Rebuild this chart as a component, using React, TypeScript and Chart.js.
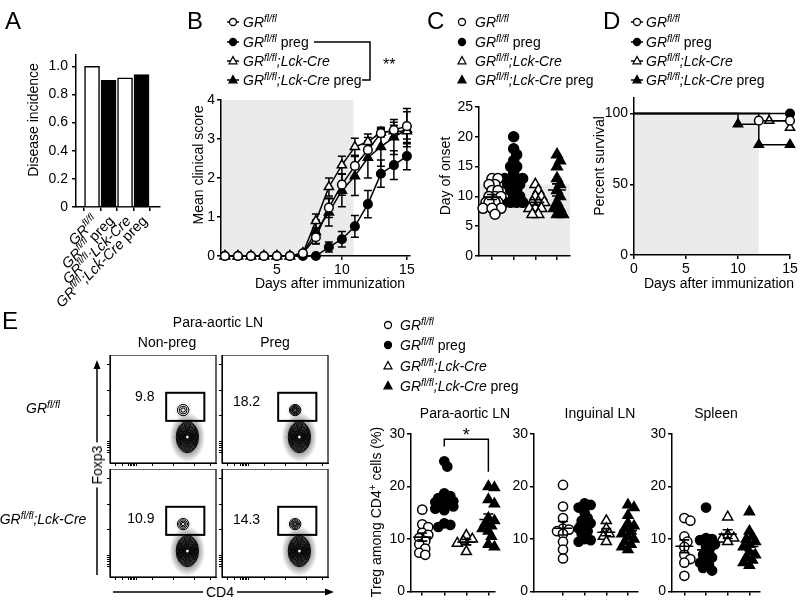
import React, { useEffect, useRef } from 'react';
import { Chart, registerables } from 'chart.js';

Chart.register(...registerables);

const FONT = '"Liberation Sans", Arial, Helvetica, sans-serif';
Chart.defaults.font.family = FONT;
Chart.defaults.color = '#000';

/* ===================== DATA ===================== */
// groups: GRfl/fl, GRfl/fl preg, GRfl/fl;Lck-Cre, GRfl/fl;Lck-Cre preg
const groupShape = ['circle', 'circle', 'triangle', 'triangle'];
const groupFilled = [false, true, false, true];

// Panel A – disease incidence
const aCatPos = [0, 1, 2, 3];
const aIncidence = [1.0, 0.9, 0.917, 0.941];
const aYTicks = [0, 0.2, 0.4, 0.6, 0.8, 1.0];
const aYTickLabels = ['0', '0.2', '0.4', '0.6', '0.8', '1.0'];
type Seg = { t: string; i?: boolean; s?: boolean };
const aCatLabels: Seg[][] = [
  [{ t: 'GR', i: true }, { t: 'fl/fl', i: true, s: true }],
  [{ t: 'GR', i: true }, { t: 'fl/fl', i: true, s: true }, { t: ' preg' }],
  [{ t: 'GR', i: true }, { t: 'fl/fl', i: true, s: true }, { t: ';Lck-Cre', i: true }],
  [{ t: 'GR', i: true }, { t: 'fl/fl', i: true, s: true }, { t: ';Lck-Cre', i: true }, { t: ' preg' }],
];

// Panel B – mean clinical score
const bDays = [1, 2, 3, 4, 5, 6, 7, 8, 9, 10, 11, 12, 13, 14, 15];
const bGr = [0, 0, 0, 0, 0, 0, 0.07, 0.48, 1.24, 1.83, 2.31, 2.72, 3.15, 3.23, 3.33];
const bGrErr = [0, 0, 0, 0, 0, 0, 0.05, 0.17, 0.25, 0.27, 0.27, 0.22, 0.1, 0.2, 0.45];
const bGrPreg = [0, 0, 0, 0, 0, 0, 0, 0, 0.23, 0.43, 0.76, 1.33, 2.11, 2.33, 2.56];
const bGrPregErr = [0, 0, 0, 0, 0, 0, 0, 0, 0.13, 0.2, 0.28, 0.35, 0.35, 0.37, 0.35];
const bLck = [0, 0, 0, 0, 0, 0, 0.07, 0.9, 1.77, 2.33, 2.8, 2.93, 3.17, 3.2, 3.2];
const bLckErr = [0, 0, 0, 0, 0, 0, 0.05, 0.18, 0.23, 0.23, 0.22, 0.2, 0.1, 0.15, 0.2];
const bLckPreg = [0, 0, 0, 0, 0, 0, 0.07, 0.62, 1.12, 1.68, 2.05, 2.52, 2.8, 3.05, 3.25];
const bLckPregErr = [0, 0, 0, 0, 0, 0, 0.05, 0.3, 0.35, 0.42, 0.5, 0.52, 0.5, 0.45, 0.45];
const bXTicks = [5, 10, 15];
const bXTickLabels = ['5', '10', '15'];
const bYTicks = [0, 1, 2, 3, 4];
const bYTickLabels = ['0', '1', '2', '3', '4'];
const bShadeEnd = 10.9;

// Panel C – day of onset
const cGr = [13, 13, 12, 12, 11, 11, 10, 10, 10, 9, 9, 9, 9, 9, 8, 8, 8, 7];
const cGrPreg = [20, 18, 17, 16, 15, 15, 14, 13, 13, 13, 13, 12, 12, 12, 11, 11, 10, 10, 9, 9, 9, 9];
const cLck = [12, 11, 10, 10, 9, 9, 9, 8, 8, 8, 7, 7];
const cLckPreg = [17, 16, 15, 13, 12, 11, 10, 9, 8, 8, 7, 7];
const cYTicks = [0, 5, 10, 15, 20, 25];
const cYTickLabels = ['0', '5', '10', '15', '20', '25'];
const cShadeTop = 12;

// Panel D – percent survival (Kaplan-Meier events)
const dGrDays = [0, 12, 15];
const dGrSurv = [100, 95, 95];
const dGrPregDays = [0, 15];
const dGrPregSurv = [100, 100];
const dLckDays = [0, 13, 15];
const dLckSurv = [100, 95, 90];
const dLckPregDays = [0, 10, 12, 15];
const dLckPregSurv = [100, 92.5, 78, 78];
const dXTicks = [0, 5, 10, 15];
const dXTickLabels = ['0', '5', '10', '15'];
const dYTicks = [0, 50, 100];
const dYTickLabels = ['0', '50', '100'];
const dShadeEnd = 12;

// Panel E – Treg among CD4+ cells (%)
const paGr = [15.6, 12.8, 12.3, 11.2, 10.8, 10.2, 9.6, 9.0, 8.2, 7.4, 7.0];
const paGrPreg = [24.8, 23.8, 18.7, 18.2, 17.8, 17.5, 17.2, 17.0, 16.8, 16.5, 16.2, 15.8, 15.5, 13.0, 12.7, 12.3];
const paLck = [10.7, 10.0, 9.6, 9.2, 7.6];
const paLckPreg = [20.0, 19.8, 17.5, 16.7, 14.0, 13.5, 13.0, 12.5, 12.0, 11.5, 10.5, 9.0, 8.5];
const inGr = [20.3, 16.2, 14.0, 12.0, 11.8, 11.5, 11.0, 9.5, 8.0, 6.3];
const inGrPreg = [16.8, 16.5, 16.0, 15.0, 14.0, 13.5, 13.0, 12.5, 12.0, 11.5, 11.0, 10.0, 9.8, 9.5];
const inLck = [13.5, 12.0, 11.0, 10.5, 9.5];
const inLckPreg = [16.5, 16.0, 14.5, 13.0, 12.5, 12.0, 11.5, 11.0, 10.5, 10.0, 9.5, 9.0, 8.5, 8.0];
const spGr = [14.0, 13.5, 10.5, 9.5, 8.5, 7.0, 6.2, 5.5, 3.0];
const spGrPreg = [16.0, 10.2, 10.0, 9.8, 9.5, 9.0, 8.5, 7.5, 7.0, 6.5, 6.0, 5.5, 5.0, 4.5, 4.0];
const spLck = [14.2, 10.8, 10.2, 10.0, 9.5];
const spLckPreg = [15.2, 11.5, 10.5, 10.0, 9.5, 9.0, 8.5, 7.5, 7.0, 6.5, 6.0, 5.5, 5.0];
const eYTicks = [0, 10, 20, 30];
const eYTickLabels = ['0', '10', '20', '30'];
const paSig = { from: 1, to: 3, y: 29, dropFrom: 27.6, dropTo: 22.8, label: '*' };

// Flow plots (Foxp3 vs CD4), gate frequencies and population contours
const flowFreq = ['9.8', '18.2', '10.9', '14.3'];
const flowGate = { x0: 53, x1: 89, y0: 39, y1: 65 };
const flowMain = { cx: 73, cy: 24, rx: 10.5, ry: 14.5 };
const flowTreg = { cx: 69, cy: 49, rx: 5.4, ry: 5.2 };
const flowMainLevels = [
  [1, 0.93, 0.86, 0.79, 0.72, 0.65, 0.58, 0.51, 0.44, 0.37, 0.3, 0.23, 0.16],
  [1, 0.93, 0.86, 0.79, 0.72, 0.65, 0.58, 0.51, 0.44, 0.37, 0.3, 0.23, 0.16],
  [1, 0.93, 0.86, 0.79, 0.72, 0.65, 0.58, 0.51, 0.44, 0.37, 0.3, 0.23, 0.16],
  [1, 0.93, 0.86, 0.79, 0.72, 0.65, 0.58, 0.51, 0.44, 0.37, 0.3, 0.23, 0.16],
];
const flowTregLevels = [
  [1, 0.68, 0.38],
  [1, 0.84, 0.68, 0.53, 0.38, 0.24],
  [1, 0.76, 0.52, 0.3],
  [1, 0.8, 0.6, 0.42, 0.25],
];
const flowTicksX = [5, 12, 17, 19, 20.5, 22, 23.5, 25, 40, 60, 80, 95];
const flowTicksY = [10, 12, 14, 16, 18, 20, 44, 67, 91];

/* ===================== LAYOUT ===================== */
const flowBoxes = [
  { x: 110, y: 355 },
  { x: 222, y: 355 },
  { x: 110, y: 469 },
  { x: 222, y: 469 },
];
const flowLabelPos = [
  { x: 42, y: 61 },
  { x: 36, y: 56 },
  { x: 42, y: 54 },
  { x: 36, y: 53 },
];

/* ===================== HELPERS ===================== */
function segFont(s: Seg, size: number) {
  return `${s.i ? 'italic ' : ''}${s.s ? Math.round(size * 0.7) : size}px ${FONT}`;
}
function drawRich(ctx: any, segs: Seg[], x: number, y: number, align: string, size: number) {
  let total = 0;
  const ws = segs.map((s) => {
    ctx.font = segFont(s, size);
    const w = ctx.measureText(s.t).width;
    total += w;
    return w;
  });
  let cx = align === 'right' ? x - total : align === 'center' ? x - total / 2 : x;
  ctx.fillStyle = '#000';
  ctx.textAlign = 'left';
  ctx.textBaseline = 'alphabetic';
  segs.forEach((s, k) => {
    ctx.font = segFont(s, size);
    ctx.fillText(s.t, cx, y + size * 0.36 - (s.s ? size * 0.38 : 0));
    cx += ws[k];
  });
}

function axis(o: any) {
  const lw = o.lw ?? 1.5;
  return {
    type: 'linear',
    min: o.min,
    max: o.max,
    afterBuildTicks: (s: any) => {
      s.ticks = o.ticks.map((v: number) => ({ value: v }));
    },
    afterFit: (s: any) => {
      if (o.width !== undefined) s.width = o.width;
      if (o.height !== undefined) s.height = o.height;
    },
    grid: { display: true, drawOnChartArea: false, drawTicks: true, tickLength: o.tickLength ?? 4, color: '#000', lineWidth: lw },
    border: { display: true, color: '#000', width: lw },
    ticks: {
      display: !!o.labels,
      color: '#000',
      font: { family: FONT, size: 14 },
      padding: o.pad ?? 2,
      autoSkip: false,
      maxRotation: 0,
      minRotation: 0,
      callback: (_v: any, i: number) => (o.labels ? o.labels[i] : ''),
    },
    title: { display: false },
  };
}

function baseOptions(padding: any) {
  return {
    responsive: false,
    animation: false,
    devicePixelRatio: 1,
    events: [],
    layout: { padding },
    plugins: { legend: { display: false }, tooltip: { enabled: false } },
  };
}

function makeShade(x0: number, x1: number, y0: number, y1: number) {
  return {
    id: 'shade',
    beforeDraw(chart: any) {
      const { ctx, scales } = chart;
      const l = scales.x.getPixelForValue(x0);
      const r = scales.x.getPixelForValue(x1);
      const t = scales.y.getPixelForValue(y1);
      const b = scales.y.getPixelForValue(y0);
      ctx.save();
      ctx.fillStyle = '#ebebeb';
      ctx.fillRect(l, t, r - l, b - t);
      ctx.restore();
    },
  };
}

const errorBarPlugin = {
  id: 'errorBars',
  beforeDatasetsDraw(chart: any) {
    const { ctx } = chart;
    const ys = chart.scales.y;
    ctx.save();
    ctx.strokeStyle = '#000';
    ctx.lineWidth = 1.5;
    chart.data.datasets.forEach((ds: any, i: number) => {
      if (!ds.errorBars) return;
      const meta = chart.getDatasetMeta(i);
      meta.data.forEach((el: any, j: number) => {
        const e = ds.errorBars[j];
        if (!e) return;
        const v = ds.data[j].y;
        const t = ys.getPixelForValue(v + e);
        const b = ys.getPixelForValue(v - e);
        const cx = el.x;
        ctx.beginPath();
        ctx.moveTo(cx, t);
        ctx.lineTo(cx, b);
        ctx.moveTo(cx - 4, t);
        ctx.lineTo(cx + 4, t);
        ctx.moveTo(cx - 4, b);
        ctx.lineTo(cx + 4, b);
        ctx.stroke();
      });
    });
    ctx.restore();
  },
};

const meanSemPlugin = {
  id: 'meanSem',
  afterDatasetsDraw(chart: any) {
    const { ctx } = chart;
    const xs = chart.scales.x;
    const ys = chart.scales.y;
    ctx.save();
    ctx.strokeStyle = '#000';
    ctx.lineWidth = 1.6;
    chart.data.datasets.forEach((ds: any) => {
      const vals: number[] = ds.rawValues;
      if (!vals) return;
      const n = vals.length;
      const m = vals.reduce((a, b) => a + b, 0) / n;
      const sd = Math.sqrt(vals.reduce((a, b) => a + (b - m) * (b - m), 0) / (n - 1));
      const sem = sd / Math.sqrt(n);
      const cx = xs.getPixelForValue(ds.category);
      const pm = ys.getPixelForValue(m);
      const pt = ys.getPixelForValue(m + sem);
      const pb = ys.getPixelForValue(m - sem);
      ctx.beginPath();
      ctx.moveTo(cx - 9, pm);
      ctx.lineTo(cx + 9, pm);
      ctx.moveTo(cx, pt);
      ctx.lineTo(cx, pb);
      ctx.moveTo(cx - 5, pt);
      ctx.lineTo(cx + 5, pt);
      ctx.moveTo(cx - 5, pb);
      ctx.lineTo(cx + 5, pb);
      ctx.stroke();
    });
    ctx.restore();
  },
};

// beeswarm: spread points of a group sideways (in pixels) so markers do not pile up
function swarm(chart: any, minDist: number, maxHalf: number) {
  const xs = chart.scales.x;
  const ys = chart.scales.y;
  chart.data.datasets.forEach((ds: any) => {
    if (!ds.rawValues) return;
    const cx = xs.getPixelForValue(ds.category);
    const pts = ds.rawValues.map((v: number) => ({ v, py: ys.getPixelForValue(v), px: cx }));
    const order = [...pts].sort((a: any, b: any) => a.py - b.py);
    const placed: any[] = [];
    const step = minDist / 2;
    order.forEach((p: any) => {
      let best = cx;
      let bestScore = Infinity;
      for (let k = 0; k < 40; k++) {
        const off = (k % 2 === 1 ? 1 : -1) * Math.ceil(k / 2) * step;
        if (Math.abs(off) > maxHalf) break;
        const x = cx + off;
        let minD = Infinity;
        placed.forEach((q) => {
          const d = Math.hypot(q.px - x, q.py - p.py);
          if (d < minD) minD = d;
        });
        if (minD >= minDist) {
          best = x;
          bestScore = -1;
          break;
        }
        const score = -minD;
        if (score < bestScore) {
          bestScore = score;
          best = x;
        }
      }
      p.px = best;
      placed.push(p);
    });
    ds.data = pts.map((p: any) => ({ x: xs.getValueForPixel(p.px), y: p.v }));
  });
  chart.update('none');
}

function markerProps(g: number, rc: number, rt: number) {
  return {
    pointStyle: groupShape[g],
    pointRadius: groupShape[g] === 'circle' ? rc : rt,
    pointBackgroundColor: groupFilled[g] ? '#000' : '#fff',
    pointBorderColor: '#000',
    pointBorderWidth: 1.5,
  };
}

/* ===================== CHART CONFIGS ===================== */
const aLabelPlugin = {
  id: 'aLabels',
  afterDraw(chart: any) {
    const { ctx, chartArea } = chart;
    const xs = chart.scales.x;
    aCatPos.forEach((v, i) => {
      const px = xs.getPixelForValue(v);
      ctx.save();
      ctx.translate(px + 3, chartArea.bottom + 11);
      ctx.rotate(-Math.PI / 4);
      drawRich(ctx, aCatLabels[i], 0, 0, 'right', 14.5);
      ctx.restore();
    });
  },
};

const makeA = () => ({
  type: 'bar',
  data: {
    datasets: [
      {
        data: aCatPos.map((x, i) => ({ x, y: aIncidence[i] })),
        backgroundColor: groupFilled.map((f) => (f ? '#000' : '#fff')),
        borderColor: '#000',
        borderWidth: 1.5,
        borderSkipped: 'bottom',
        barThickness: 15,
      },
    ],
  },
  options: {
    ...baseOptions({ left: 0, top: 15, right: 5.6, bottom: 0 }),
    scales: {
      x: axis({ min: -0.34, max: 3.45, ticks: aCatPos, height: 103 }),
      y: axis({ min: 0, max: 1.08, ticks: aYTicks, labels: aYTickLabels, width: 51, pad: 4 }),
    },
  },
  plugins: [aLabelPlugin],
});

const bSeries = [bGr, bGrPreg, bLck, bLckPreg];
const bErrors = [bGrErr, bGrPregErr, bLckErr, bLckPregErr];
const makeB = () => ({
  type: 'line',
  data: {
    datasets: bSeries.map((s, g) => ({
      data: bDays.map((d, i) => ({ x: d, y: s[i] })),
      errorBars: bErrors[g],
      borderColor: '#000',
      borderWidth: 1.5,
      tension: 0,
      fill: false,
      clip: false,
      ...markerProps(g, 4.3, 5.3),
    })),
  },
  options: {
    ...baseOptions({ left: 0, top: 15, right: 10, bottom: 0 }),
    scales: {
      x: axis({ min: 0.7, max: 15.24, ticks: bXTicks, labels: bXTickLabels, height: 39 }),
      y: axis({ min: 0, max: 4, ticks: bYTicks, labels: bYTickLabels, width: 31 }),
    },
  },
  plugins: [makeShade(0.7, bShadeEnd, 0, 4), errorBarPlugin],
});

const cSeries = [cGr, cGrPreg, cLck, cLckPreg];
const makeC = () => ({
  type: 'scatter',
  data: {
    datasets: cSeries.map((s, g) => ({
      rawValues: s,
      category: g,
      data: s.map((v) => ({ x: g, y: v })),
      clip: false,
      ...markerProps(g, 5, 6.2),
    })),
  },
  options: {
    ...baseOptions({ left: 0, top: 12, right: 11, bottom: 0 }),
    scales: {
      x: axis({ min: -0.6, max: 3.6, ticks: [0, 1, 2, 3], height: 14 }),
      y: axis({ min: 0, max: 25, ticks: cYTicks, labels: cYTickLabels, width: 42 }),
    },
  },
  plugins: [makeShade(-0.6, 3.6, 0, cShadeTop), meanSemPlugin],
});

const dDays = [dGrDays, dGrPregDays, dLckDays, dLckPregDays];
const dSurv = [dGrSurv, dGrPregSurv, dLckSurv, dLckPregSurv];
const makeD = () => ({
  type: 'line',
  data: {
    datasets: dDays.map((days, g) => {
      const mp = markerProps(g, 4.3, 5.3);
      return {
        data: days.map((d, i) => ({ x: d, y: dSurv[g][i] })),
        stepped: true,
        borderColor: '#000',
        borderWidth: 1.5,
        fill: false,
        clip: false,
        ...mp,
        pointRadius: (c: any) => (c.dataIndex === 0 ? 0 : mp.pointRadius),
      };
    }),
  },
  options: {
    ...baseOptions({ left: 0, top: 13, right: 12, bottom: 0 }),
    scales: {
      x: axis({ min: 0, max: 15, ticks: dXTicks, labels: dXTickLabels, height: 40 }),
      y: axis({ min: 0, max: 111, ticks: dYTicks, labels: dYTickLabels, width: 43 }),
    },
  },
  plugins: [makeShade(0, dShadeEnd, 0, 100)],
});

const sigPlugin = {
  id: 'sig',
  afterDraw(chart: any) {
    const { ctx } = chart;
    const xs = chart.scales.x;
    const ys = chart.scales.y;
    const x1 = xs.getPixelForValue(paSig.from);
    const x2 = xs.getPixelForValue(paSig.to);
    const yt = ys.getPixelForValue(paSig.y);
    ctx.save();
    ctx.strokeStyle = '#000';
    ctx.lineWidth = 1.5;
    ctx.beginPath();
    ctx.moveTo(x1, ys.getPixelForValue(paSig.dropFrom));
    ctx.lineTo(x1, yt);
    ctx.lineTo(x2, yt);
    ctx.lineTo(x2, ys.getPixelForValue(paSig.dropTo));
    ctx.stroke();
    ctx.fillStyle = '#000';
    ctx.font = `18px ${FONT}`;
    ctx.textAlign = 'center';
    ctx.textBaseline = 'alphabetic';
    ctx.fillText(paSig.label, (x1 + x2) / 2, yt + 2);
    ctx.restore();
  },
};

function makeE(series: number[][], xmin: number, xmax: number, yw: number, padRight: number, extra: any[]) {
  return () => ({
    type: 'scatter',
    data: {
      datasets: series.map((s, g) => ({
        rawValues: s,
        category: g,
        data: s.map((v) => ({ x: g, y: v })),
        clip: false,
        ...markerProps(g, 4.6, 5.8),
      })),
    },
    options: {
      ...baseOptions({ left: 0, top: 14, right: padRight, bottom: 0 }),
      scales: {
        x: axis({ min: xmin, max: xmax, ticks: [0, 1, 2, 3], height: 10 }),
        y: axis({ min: 0, max: 30, ticks: eYTicks, labels: eYTickLabels, width: yw }),
      },
    },
    plugins: [meanSemPlugin, ...extra],
  });
}

function drawBlob(ctx: any, xs: any, ys: any, b: any, levels: number[], halo: number, core: number) {
  const cx = xs.getPixelForValue(b.cx);
  const cy = ys.getPixelForValue(b.cy);
  const rx = xs.getPixelForValue(b.cx + b.rx) - cx;
  const ry = cy - ys.getPixelForValue(b.cy + b.ry);
  ctx.save();
  ctx.translate(cx, cy);
  ctx.scale(1, ry / rx);
  const R = rx * 1.6;
  const g = ctx.createRadialGradient(0, 0, 0, 0, 0, R);
  g.addColorStop(0, `rgba(0,0,0,${core})`);
  g.addColorStop(0.6, `rgba(0,0,0,${halo})`);
  g.addColorStop(1, 'rgba(0,0,0,0)');
  ctx.fillStyle = g;
  ctx.beginPath();
  ctx.arc(0, 0, R, 0, Math.PI * 2);
  ctx.fill();
  ctx.restore();
  ctx.strokeStyle = '#000';
  ctx.lineWidth = 1;
  levels.forEach((f) => {
    ctx.beginPath();
    ctx.ellipse(cx, cy, rx * f, ry * f, 0, 0, Math.PI * 2);
    ctx.stroke();
  });
}

function makeFlow(p: number) {
  const plugin = {
    id: 'flow',
    afterDraw(chart: any) {
      const { ctx, chartArea: a } = chart;
      const xs = chart.scales.x;
      const ys = chart.scales.y;
      ctx.save();
      ctx.beginPath();
      ctx.rect(a.left, a.top, a.width, a.height);
      ctx.clip();
      drawBlob(ctx, xs, ys, flowMain, flowMainLevels[p], 0.4, 0.9);
      drawBlob(ctx, xs, ys, flowTreg, flowTregLevels[p], 0.08, p % 2 === 1 ? 0.45 : 0.12);
      const mx = xs.getPixelForValue(flowMain.cx);
      const my = ys.getPixelForValue(flowMain.cy);
      ctx.fillStyle = '#fff';
      ctx.beginPath();
      ctx.arc(mx, my, 1.3, 0, Math.PI * 2);
      ctx.fill();
      ctx.restore();
      ctx.save();
      ctx.strokeStyle = '#000';
      ctx.lineWidth = 2;
      const gx0 = xs.getPixelForValue(flowGate.x0);
      const gx1 = xs.getPixelForValue(flowGate.x1);
      const gy0 = ys.getPixelForValue(flowGate.y1);
      const gy1 = ys.getPixelForValue(flowGate.y0);
      ctx.strokeRect(gx0, gy0, gx1 - gx0, gy1 - gy0);
      ctx.lineWidth = 1.2;
      ctx.strokeRect(a.left, a.top, a.width, a.height);
      ctx.fillStyle = '#000';
      ctx.font = `14px ${FONT}`;
      ctx.textAlign = 'right';
      ctx.textBaseline = 'middle';
      ctx.fillText(flowFreq[p], xs.getPixelForValue(flowLabelPos[p].x), ys.getPixelForValue(flowLabelPos[p].y));
      ctx.restore();
    },
  };
  return () => ({
    type: 'scatter',
    data: { datasets: [] },
    options: {
      ...baseOptions({ left: 0, top: 0, right: 1, bottom: 0 }),
      scales: {
        x: axis({ min: 0, max: 100, ticks: flowTicksX, height: 5, lw: 1, tickLength: 3 }),
        y: axis({ min: 0, max: 100, ticks: flowTicksY, width: 5, lw: 1, tickLength: 3 }),
      },
    },
    plugins: [plugin],
  });
}

/* ===================== COMPONENTS ===================== */
type Box = { x: number; y: number; w: number; h: number };
function ChartBox({ box, make, after }: { box: Box; make: () => any; after?: (c: any) => void }) {
  const ref = useRef<HTMLCanvasElement | null>(null);
  useEffect(() => {
    if (!ref.current) return;
    const chart: any = new Chart(ref.current, make());
    if (after) after(chart);
    return () => chart.destroy();
  }, []);
  return (
    <canvas
      ref={ref}
      width={box.w}
      height={box.h}
      style={{ position: 'absolute', left: box.x, top: box.y, width: box.w, height: box.h }}
    />
  );
}

const supStyle: any = { fontSize: 10, position: 'relative', top: -5, verticalAlign: 'baseline', lineHeight: 0 };
const groupLabel = [
  <i>GR<sup style={supStyle}>fl/fl</sup></i>,
  <>
    <i>GR<sup style={supStyle}>fl/fl</sup></i> preg
  </>,
  <i>GR<sup style={supStyle}>fl/fl</sup>;Lck-Cre</i>,
  <>
    <i>GR<sup style={supStyle}>fl/fl</sup>;Lck-Cre</i> preg
  </>,
];

function T({ x, y, children, align = 'center', size = 14, style = {} }: any) {
  const tx = align === 'center' ? '-50%' : align === 'right' ? '-100%' : '0';
  const lh = Math.round(size * 1.14);
  return (
    <div
      style={{
        position: 'absolute',
        left: x,
        top: y - lh / 2,
        fontSize: size,
        lineHeight: `${lh}px`,
        whiteSpace: 'nowrap',
        transform: `translateX(${tx})`,
        ...style,
      }}
    >
      {children}
    </div>
  );
}

function VT({ x, y, children, style = {} }: any) {
  return (
    <div
      style={{
        position: 'absolute',
        left: x,
        top: y,
        fontSize: 14,
        lineHeight: '16px',
        whiteSpace: 'nowrap',
        transform: 'translate(-50%, -50%) rotate(-90deg)',
        ...style,
      }}
    >
      {children}
    </div>
  );
}

function Legend({ mx, tx, rows, line }: any) {
  return (
    <>
      {rows.map((y: number, g: number) => (
        <React.Fragment key={g}>
          <svg style={{ position: 'absolute', left: mx - 8, top: y - 7 }} width={16} height={14}>
            {line && <line x1={2} y1={7} x2={14} y2={7} stroke="#000" strokeWidth={1.5} />}
            {groupShape[g] === 'circle' ? (
              <circle cx={8} cy={7} r={3.5} fill={groupFilled[g] ? '#000' : '#fff'} stroke="#000" strokeWidth={1.3} />
            ) : (
              <polygon points="8,2.6 12,9.8 4,9.8" fill={groupFilled[g] ? '#000' : '#fff'} stroke="#000" strokeWidth={1.2} />
            )}
          </svg>
          <T x={tx} y={y} align="left">
            {groupLabel[g]}
          </T>
        </React.Fragment>
      ))}
    </>
  );
}

export default function App() {
  const legendRows = [22, 42, 61, 80];
  return (
    <div
      style={{
        position: 'absolute',
        left: 0,
        top: 0,
        width: 802,
        height: 600,
        background: '#fff',
        overflow: 'hidden',
        fontFamily: FONT,
        color: '#000',
      }}
    >
      <ChartBox box={{ x: 25, y: 40, w: 140, h: 270 }} make={makeA} />
      <ChartBox box={{ x: 190, y: 85, w: 230, h: 210 }} make={makeB} />
      <ChartBox box={{ x: 437, y: 95, w: 144, h: 175 }} make={makeC} after={(c) => swarm(c, 6, 11)} />
      <ChartBox box={{ x: 591, y: 85, w: 211, h: 210 }} make={makeD} />
      <ChartBox
        box={{ x: 368, y: 420, w: 136, h: 182 }}
        make={makeE([paGr, paGrPreg, paLck, paLckPreg], -0.51, 3.3, 43, 9, [sigPlugin])}
        after={(c) => swarm(c, 6, 9)}
      />
      <ChartBox
        box={{ x: 500, y: 420, w: 145, h: 182 }}
        make={makeE([inGr, inGrPreg, inLck, inLckPreg], -1.34, 3.45, 34, 7, [])}
        after={(c) => swarm(c, 6, 9)}
      />
      <ChartBox
        box={{ x: 640, y: 420, w: 130, h: 182 }}
        make={makeE([spGr, spGrPreg, spLck, spLckPreg], -0.57, 3.49, 32, 10, [])}
        after={(c) => swarm(c, 6, 9)}
      />
      {flowBoxes.map((b, p) => (
        <ChartBox key={p} box={{ x: b.x - 5, y: b.y, w: 112, h: 113 }} make={makeFlow(p)} />
      ))}

      <svg style={{ position: 'absolute', left: 0, top: 0 }} width={802} height={600}>
        <path d="M314 42 H370 V80 H362" fill="none" stroke="#000" strokeWidth={1.5} />
        <line x1={97} y1={575} x2={97} y2={367} stroke="#000" strokeWidth={1.5} />
        <polygon points="97,360 93.5,369 100.5,369" fill="#000" />
        <line x1={113} y1={592} x2={327} y2={592} stroke="#000" strokeWidth={1.5} />
        <polygon points="334,592 325,588.5 325,595.5" fill="#000" />
      </svg>

      {/* panel letters */}
      <T x={5} y={20} size={24} align="left">A</T>
      <T x={187} y={20} size={24} align="left">B</T>
      <T x={427} y={20} size={24} align="left">C</T>
      <T x={603} y={20} size={24} align="left">D</T>
      <T x={2} y={320} size={24} align="left">E</T>

      {/* axis titles */}
      <VT x={33} y={120}>Disease incidence</VT>
      <VT x={198} y={165}>Mean clinical score</VT>
      <T x={330} y={283}>Days after immunization</T>
      <VT x={445} y={176}>Day of onset</VT>
      <VT x={599} y={166}>Percent survival</VT>
      <T x={719} y={283}>Days after immunization</T>

      {/* legends */}
      <Legend mx={233} tx={243} rows={legendRows} line />
      <T x={383} y={65} align="left" size={16}>**</T>
      <Legend mx={462} tx={475} rows={legendRows} />
      <Legend mx={637} tx={646} rows={legendRows} line />
      <Legend mx={388} tx={400} rows={[325, 345, 366, 386]} />

      {/* panel E flow labels */}
      <T x={218} y={322}>Para-aortic LN</T>
      <T x={167} y={342}>Non-preg</T>
      <T x={275} y={342}>Preg</T>
      <T x={43} y={408}>
        <i>GR<sup style={supStyle}>fl/fl</sup></i>
      </T>
      <T x={43} y={519}>
        <i>GR<sup style={supStyle}>fl/fl</sup>;Lck-Cre</i>
      </T>
      <VT x={97} y={465} style={{ background: '#fff', padding: '0 3px' }}>Foxp3</VT>
      <T x={220} y={592} style={{ background: '#fff', padding: '0 3px' }}>CD4</T>

      {/* panel E dot plot titles */}
      <T x={465} y={413}>Para-aortic LN</T>
      <T x={600} y={413}>Inguinal LN</T>
      <T x={716} y={413}>Spleen</T>
      <VT x={376} y={512}>
        Treg among CD4<sup style={supStyle}>+</sup> cells (%)
      </VT>
    </div>
  );
}
